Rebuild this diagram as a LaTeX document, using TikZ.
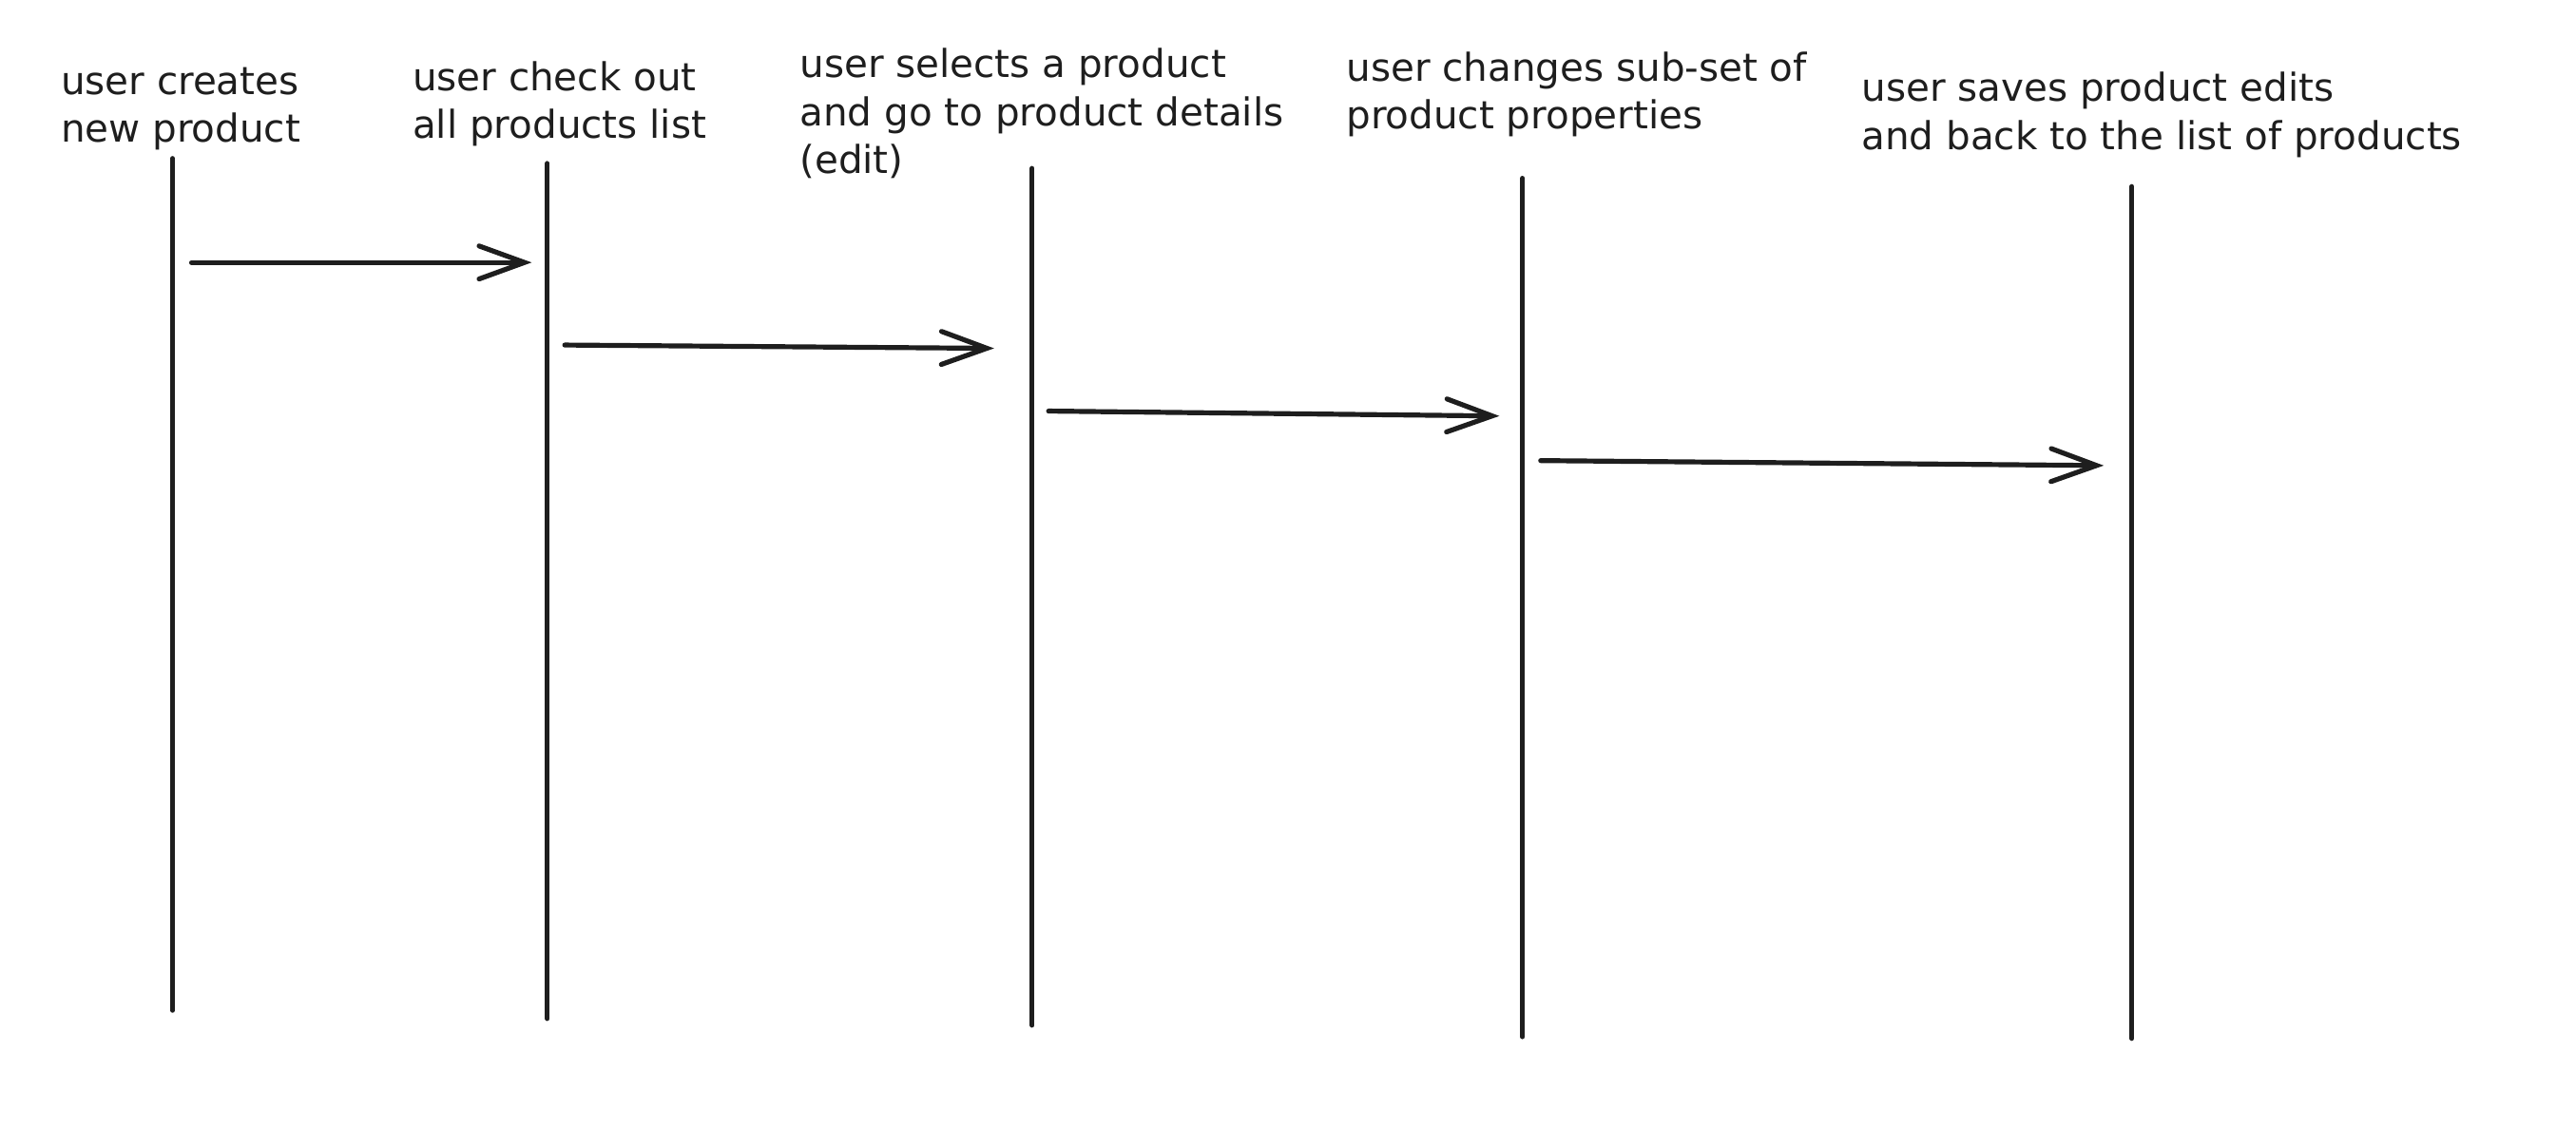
\documentclass[tikz,border=0pt]{standalone}
\usepackage{fontspec}
\setmainfont{DejaVu Sans}
\usepackage{tikz}
\usetikzlibrary{arrows.meta}
\definecolor{ink}{HTML}{1E1E1E}

\begin{document}
\begin{tikzpicture}[auto,
    lbl/.style={anchor=base west, align=left, inner sep=0pt, text=ink,
                font=\fontsize{13.25}{16.5}\selectfont},
    life/.style={draw=ink, line width=1.7pt, line cap=round},
    flow/.style={draw=ink, line width=1.7pt, line cap=round,
                 -{Straight Barb[length=5.5mm, width=4mm, line cap=round]}}]
        % Fixed canvas
        \useasboundingbox (0,0) rectangle (31.2,-13.907);

        % Step labels along the top (anchored at the last line)
        \node[lbl] (create) at (0.73,-1.72) {user creates\\new product};
        \node[lbl] (browse) at (4.99,-1.674) {user check out\\all products list};
        \node[lbl] (select) at (9.68,-2.1) {user selects a product\\and go to product details\\(edit)};
        \node[lbl] (change) at (16.3,-1.56) {user changes sub-set of\\product properties};
        \node[lbl] (save) at (22.54,-1.808) {user saves product edits\\and back to the list of products};

        % Lifeline end points below each label
        \coordinate (top1) at (2.09,-1.92);   \coordinate (bot1) at (2.09,-12.24);
        \coordinate (top2) at (6.63,-1.98);   \coordinate (bot2) at (6.63,-12.34);
        \coordinate (top3) at (12.5,-2.04);   \coordinate (bot3) at (12.5,-12.42);
        \coordinate (top4) at (18.44,-2.16);  \coordinate (bot4) at (18.44,-12.56);
        \coordinate (top5) at (25.82,-2.26);  \coordinate (bot5) at (25.82,-12.58);

        % Vertical lifelines
        \draw[life] (top1) -- (bot1);
        \draw[life] (top2) -- (bot2);
        \draw[life] (top3) -- (bot3);
        \draw[life] (top4) -- (bot4);
        \draw[life] (top5) -- (bot5);

        % Arrow end points between neighbouring lifelines
        \coordinate (from1) at (2.32,-3.18);   \coordinate (to1) at (6.44,-3.18);
        \coordinate (from2) at (6.84,-4.18);   \coordinate (to2) at (12.04,-4.22);
        \coordinate (from3) at (12.7,-4.98);   \coordinate (to3) at (18.16,-5.04);
        \coordinate (from4) at (18.66,-5.58);  \coordinate (to4) at (25.48,-5.64);

        % Arrows from one step to the next
        \draw[flow] (from1) -- (to1);
        \draw[flow] (from2) -- (to2);
        \draw[flow] (from3) -- (to3);
        \draw[flow] (from4) -- (to4);
    \end{tikzpicture}
\end{document}
